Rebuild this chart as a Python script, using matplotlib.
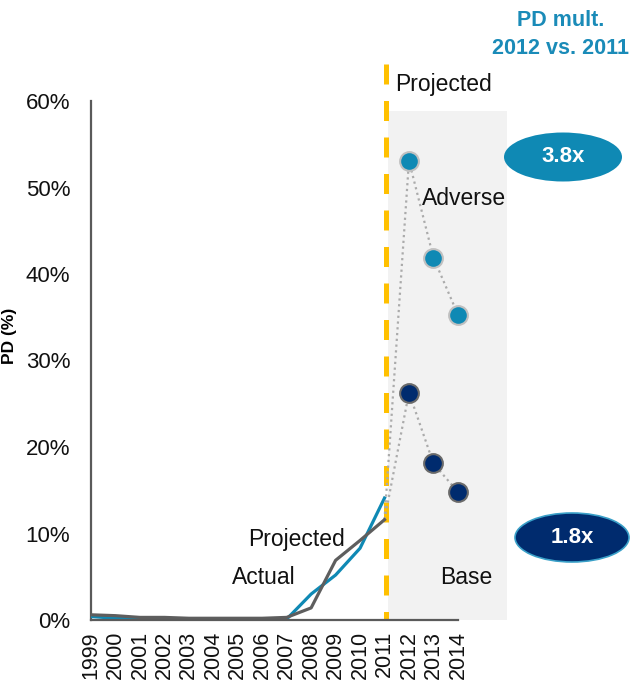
import matplotlib
matplotlib.use("Agg")
import matplotlib.pyplot as plt
from matplotlib.patches import Rectangle, Ellipse

plt.rcParams['font.family'] = ['Liberation Sans', 'DejaVu Sans']

# ---- data ----
years = list(range(1999, 2012))
actual = [0.6, 0.5, 0.3, 0.3, 0.2, 0.2, 0.2, 0.2, 0.3, 1.4, 6.9, 9.2, 11.6]
projected = [0.4, 0.2, 0.1, 0.1, 0.1, 0.1, 0.1, 0.1, 0.1, 3.0, 5.2, 8.3, 14.1]
scen_years = [2012, 2013, 2014]
adverse = [53.1, 41.9, 35.3]
base = [26.3, 18.1, 14.8]
tick_years = list(range(1999, 2015))
y_ticks = [0, 10, 20, 30, 40, 50, 60]
mult_labels = ["3.8x", "1.8x"]

BLUE = "#0f89b4"
NAVY = "#002b6e"
GRAY = "#5e5e5e"
YELLOW = "#ffc000"

W, H = 640, 686
fig = plt.figure(figsize=(W / 100, H / 100), dpi=100)
px_year = 24.46
ax = fig.add_axes([91 / W, 66 / H, 17 * px_year / W, 519 / H])
ax.set_xlim(1999, 2016)
ax.set_ylim(0, 60)

# shaded projection region
ax.add_patch(Rectangle((2011.15, 0), 2016 - 2011.15, 58.8, facecolor="#f2f2f2",
                       edgecolor="none", zorder=0))

# yellow dashed separator
ax.plot([2011.05, 2011.05], [64.3, 0], color=YELLOW, lw=3.6, dashes=(4, 3.3),
        clip_on=False, zorder=2, solid_capstyle='butt', dash_capstyle='butt')

# historic lines
ax.plot(years, projected, color=BLUE, lw=2.3, zorder=3)
ax.plot(years, actual, color=GRAY, lw=2.3, zorder=4)

# dotted connectors
ax.plot([years[-1]] + scen_years, [actual[-1]] + adverse, color="#ababab", lw=1.6,
        dashes=(1, 1.6), zorder=3)
ax.plot([years[-1]] + scen_years, [actual[-1]] + base, color="#ababab", lw=1.6,
        dashes=(1, 1.6), zorder=3)

# scenario points
ax.plot(scen_years, adverse, 'o', ms=13.5, mfc=BLUE, mec="#c0c0c0", mew=1.5, zorder=5)
ax.plot(scen_years, base, 'o', ms=13.5, mfc=NAVY, mec="#6a6a6a", mew=1.5, zorder=5)

# spines & ticks
for s in ['top', 'right']:
    ax.spines[s].set_visible(False)
for s in ['left', 'bottom']:
    ax.spines[s].set_color("#5a5a5a")
    ax.spines[s].set_linewidth(1.6)
ax.spines['bottom'].set_bounds(1999, 2014)
ax.spines['bottom'].set_zorder(6)
ax.set_xticks(tick_years)
ax.set_xticklabels([str(y) for y in tick_years], rotation=90, fontsize=15.5, color="#111111")
ax.set_yticks(y_ticks)
ax.set_yticklabels([f"{v}%" for v in y_ticks], fontsize=16, color="#111111")
ax.tick_params(axis='x', length=0, pad=8)
ax.tick_params(axis='y', length=0, pad=15)
ax.set_ylabel("PD (%)", fontsize=12.5, fontweight='bold')
ax.yaxis.set_label_coords(-0.178, 0.547)

# annotations
tk = dict(fontsize=16.5, color="#111111", va='center', ha='left')
ax.text(2011.43, 61.85, "Projected", clip_on=False, **tk)
ax.text(2012.53, 48.7, "Adverse", **tk)
ax.text(2005.42, 9.25, "Projected", **tk)
ax.text(2004.76, 4.97, "Actual", **tk)
ax.text(2013.27, 4.86, "Base", **tk)

# title
fig.text(561 / W, 1 - 20 / H, "PD mult.", fontsize=15.5, fontweight='bold', color="#1a8bb8",
         ha='center', va='center')
fig.text(561 / W, 1 - 48 / H, "2012 vs. 2011", fontsize=15.5, fontweight='bold', color="#1a8bb8",
         ha='center', va='center')

# multiplier ellipses
e1 = Ellipse((563 / W, 1 - 157 / H), 118 / W, 49 / H, transform=fig.transFigure,
             facecolor=BLUE, edgecolor='none')
e2 = Ellipse((572 / W, 1 - 537.5 / H), 114 / W, 49 / H, transform=fig.transFigure,
             facecolor=NAVY, edgecolor="#3aa0c8", lw=1.2)
fig.patches.extend([e1, e2])
fig.text(563 / W, 1 - 157 / H, mult_labels[0], fontsize=16, fontweight='bold', color='white',
         ha='center', va='center')
fig.text(572 / W, 1 - 537.5 / H, mult_labels[1], fontsize=16, fontweight='bold', color='white',
         ha='center', va='center')

fig.savefig("out.png", dpi=100)
